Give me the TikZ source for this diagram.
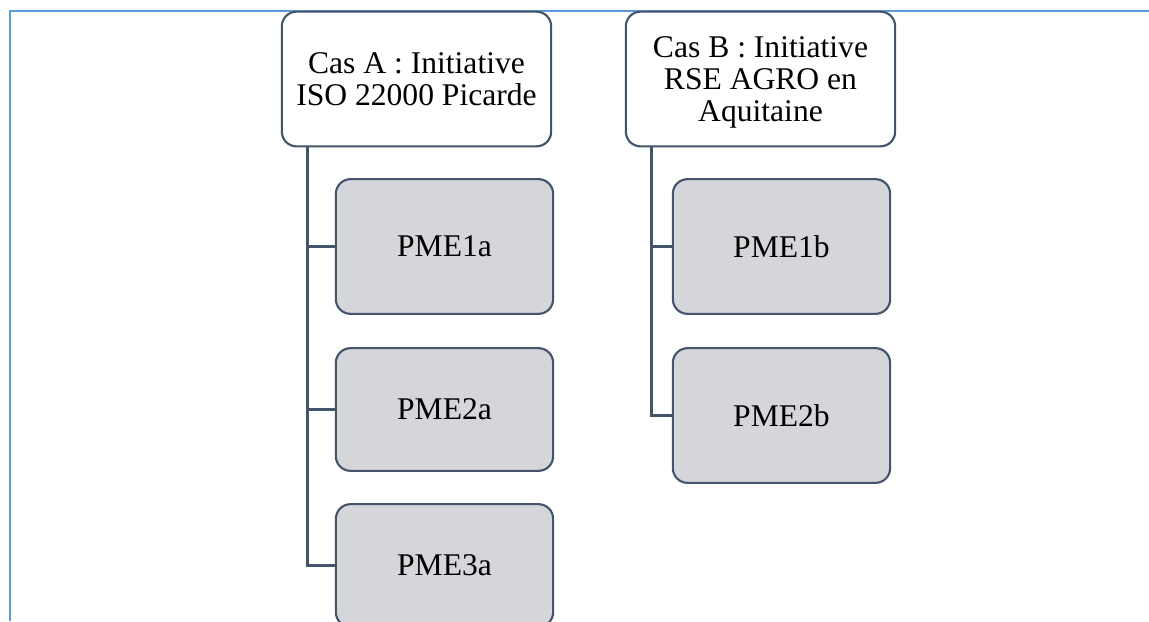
\documentclass[tikz,border=0pt]{standalone}
\usepackage{fontspec}
\setmainfont{Liberation Serif}
\definecolor{frameblue}{HTML}{5B9BD5}
\definecolor{slate}{HTML}{44546A}
\definecolor{boxgray}{HTML}{D5D6DA}
\begin{document}
\begin{tikzpicture}[x=0.75pt, y=-0.75pt,
    casbox/.style={draw=slate, line width=1.6pt, rounded corners=11pt, fill=white,
      minimum width=202pt, minimum height=101pt, align=center,
      font=\fontsize{23.7}{24}\selectfont, inner sep=0pt},
    pmebox/.style={draw=slate, line width=1.6pt, rounded corners=11pt, fill=boxgray,
      minimum width=163pt, align=center, font=\fontsize{23.7}{24}\selectfont},
    link/.style={draw=slate, line width=2pt}]
    \useasboundingbox (0,0) rectangle (1149,621);
    \draw[frameblue, line width=1.5pt] (10,621) -- (10,11) -- (1149,11);
    % deux initiatives
    \node[casbox] (casA) at (416.5,79) {Cas A : Initiative\\ISO 22000 Picarde};
    \node[casbox, text depth=0pt] (casB) at (760.5,79) {Cas B : Initiative\\RSE AGRO en\\Aquitaine};
    % PME
    \node[pmebox, minimum height=101pt] (pme1a) at (444.5,246.5) {PME1a};
    \node[pmebox, minimum height=92pt] (pme2a) at (444.5,409.5) {PME2a};
    \node[pmebox, minimum height=92pt] (pme3a) at (444.5,565.5) {PME3a};
    \node[pmebox, minimum height=101pt] (pme1b) at (781.5,246.5) {PME1b};
    \node[pmebox, minimum height=101pt] (pme2b) at (781.5,415.5) {PME2b};
    \foreach \c in {pme1a,pme2a,pme3a}
      \draw[link] ([xshift=20.25pt]casA.south west) |- (\c.west);
    \foreach \c in {pme1b,pme2b}
      \draw[link] ([xshift=20.25pt]casB.south west) |- (\c.west);
\end{tikzpicture}
\end{document}
